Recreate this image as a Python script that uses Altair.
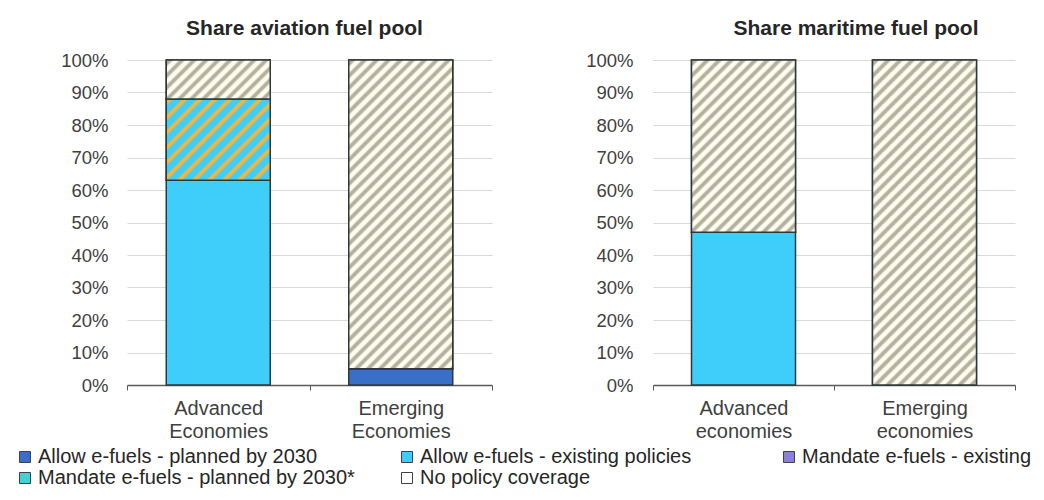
import altair as alt
import pandas as pd

# ---------------- data ----------------
aviation_categories = ["Advanced Economies", "Emerging Economies"]
maritime_categories = ["Advanced economies", "Emerging economies"]
series_names = [
    "Allow e-fuels - planned by 2030",
    "Allow e-fuels - existing policies",
    "Mandate e-fuels - existing",
    "Mandate e-fuels - planned by 2030*",
    "No policy coverage",
]
aviation_allow_planned = [0, 5]
aviation_allow_existing = [63, 0]
aviation_mandate_existing = [0, 0]
aviation_mandate_planned = [25, 0]
aviation_no_policy = [12, 95]

maritime_allow_planned = [0, 0]
maritime_allow_existing = [47, 0]
maritime_mandate_existing = [0, 0]
maritime_mandate_planned = [0, 0]
maritime_no_policy = [53, 100]

y_tick_values = [0, 10, 20, 30, 40, 50, 60, 70, 80, 90, 100]
aviation_title = "Share aviation fuel pool"
maritime_title = "Share maritime fuel pool"

# ---------------- style ----------------
FONT = "Liberation Sans"
series_colors = ["#3a6fc8", "#3fcdf9", "#8b7fd9", "#45d0d8", "#ffffff"]
PLOT_H = 325
BAR_W = 104
STROKE = "#2f3838"
# hatch styles: (line colour, background colour, horizontal period px, profile)
soft = [(0.0, 0), (0.22, 1), (0.45, 1), (0.68, 0)]
thin = [(0.0, 0), (0.18, 1), (0.36, 1), (0.55, 0)]
hatch_styles = {
    "No policy coverage": ("#b3b19d", "#fffdf0", 12.0, soft),
    "Mandate e-fuels - planned by 2030*": ("#f2b53e", "#3fcdf9", 15.0, thin),
}


def stripe_gradient(W, H, period, line, bg, prof):
    L = W + H
    stops = []
    k = 0
    while k * period < L:
        for f, is_line in prof:
            off = (k + f) * period / L
            if off <= 1:
                stops.append({"offset": round(off, 5), "color": line if is_line else bg})
        k += 1
    stops.append({"offset": 1, "color": stops[-1]["color"]})
    d = W * W + H * H
    return alt.Gradient(
        gradient="linear",
        stops=stops,
        x1=0, y1=0,
        x2=W * L / d, y2=H * L / d,
    )


def build_df(cats, cols):
    rows = []
    for ci, c in enumerate(cats):
        for si, s in enumerate(series_names):
            v = cols[si][ci]
            if v > 0:
                rows.append({"category": c, "series": s, "order": si, "value": v})
    return pd.DataFrame(rows)


def panel(cats, cols, title, width, label_pad, extent, title_dx):
    df = build_df(cats, cols)
    base = alt.Chart(df).transform_stack(
        stack="value", groupby=["category"],
        sort=[alt.SortField("order", order="ascending")], as_=["v0", "v1"],
    )
    x = alt.X(
        "category:N", sort=cats,
        scale=alt.Scale(paddingInner=0, paddingOuter=0),
        axis=alt.Axis(
            title=None, labelAngle=0, labelExpr="split(datum.label, ' ')",
            labelFontSize=20, labelColor="#404040", labelLineHeight=23,
            labelPadding=8, domainColor="#595959", domainWidth=1.5,
            tickColor="#595959", tickSize=5, tickBand="extent",
        ),
    )
    y = alt.Y(
        "v0:Q", scale=alt.Scale(domain=[0, 100]),
        axis=alt.Axis(
            title=None, values=y_tick_values, labelExpr="datum.value + '%'",
            labelFontSize=18.5, labelColor="#404040", labelPadding=label_pad,
            domain=False, ticks=False, grid=True, gridColor="#d9d9d9",
            minExtent=extent, maxExtent=extent,
        ),
    )
    solid = base.mark_bar(width=BAR_W, stroke=STROKE, strokeWidth=1.5).encode(
        x=x, y=y, y2="v1:Q",
        fill=alt.Fill(
            "series:N",
            scale=alt.Scale(domain=series_names, range=series_colors),
            legend=alt.Legend(
                title=None, orient="none", legendX=-112, legendY=387,
                direction="horizontal", columns=3, gridAlign="all",
                symbolType="square", symbolSize=121,
                symbolStrokeColor="#404040", symbolStrokeWidth=1,
                labelFontSize=20, labelColor="#262626", labelOffset=3,
                columnPadding=42, rowPadding=1, labelLimit=500,
            ),
        ),
    )
    layers = [solid]
    for ci, c in enumerate(cats):
        for si, s in enumerate(series_names):
            v = cols[si][ci]
            if v > 0 and s in hatch_styles:
                line, bg, per, prof = hatch_styles[s]
                grad = stripe_gradient(BAR_W, v / 100 * PLOT_H, per, line, bg, prof)
                layer = base.transform_filter(
                    (alt.datum.category == c) & (alt.datum.series == s)
                ).mark_bar(width=BAR_W, fill=grad, stroke=STROKE, strokeWidth=1.5).encode(
                    x=x, y=y, y2="v1:Q"
                )
                layers.append(layer)
    return alt.layer(*layers).properties(
        width=width, height=PLOT_H,
        title=alt.TitleParams(
            title, fontSize=21, fontWeight="bold", color="#262626",
            offset=12, dx=title_dx, anchor="middle",
        ),
    )


left = panel(
    aviation_categories,
    [aviation_allow_planned, aviation_allow_existing, aviation_mandate_existing,
     aviation_mandate_planned, aviation_no_policy],
    aviation_title, 365, 19, 114, -5,
)
right = panel(
    maritime_categories,
    [maritime_allow_planned, maritime_allow_existing, maritime_mandate_existing,
     maritime_mandate_planned, maritime_no_policy],
    maritime_title, 362, 20, 80, 22,
)

chart = (
    alt.hconcat(left, right, spacing=80)
    .properties(padding={"left": 5, "top": 10, "right": 0, "bottom": 0})
    .configure(font=FONT)
    .configure_view(stroke=None)
)

chart.save("out.html", embed_options={"renderer": "svg", "actions": False})
